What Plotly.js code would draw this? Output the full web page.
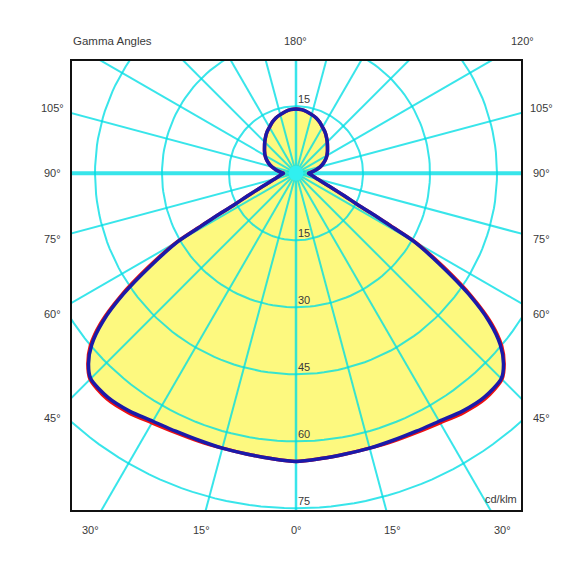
<!DOCTYPE html>
<html>
<head>
<meta charset="utf-8">
<script src="https://cdn.plot.ly/plotly-3.0.1.min.js"></script>
<style>html,body{margin:0;padding:0;background:#fff;}#chart{width:584px;height:584px;}</style>
</head>
<body>
<div id="chart"></div>
<script>
// Gamma angles (degrees from nadir) and luminous intensity (cd/klm)
const gamma = [0,5,10,15,20,25,30,35,40,45,47.5,50,52.5,55,57.5,60,61,62,63,65,67.5,70,75,80,85,90,95,100,105,110,115,120,125,130,135,140,145,150,155,160,165,170,175,180];
const planeBlue = [64.5,64.1,63.8,63.7,63.6,63.7,64.1,65.0,65.5,65.0,63.0,59.7,54.5,47.2,38.6,30.3,23.8,19.4,15.5,11.9,9.0,7.1,5.0,3.9,3.3,2.8,3.6,4.6,5.6,6.5,7.3,8.0,8.6,9.2,9.9,10.6,11.3,11.9,12.6,13.2,13.6,14.0,14.3,14.4];
const planeRed  = [64.5,64.1,63.8,63.7,63.8,64.0,64.5,65.4,65.9,65.2,63.2,60.1,55.1,47.9,39.4,31.0,24.3,19.7,15.6,11.9,9.0,7.1,5.0,3.9,3.3,2.8,3.6,4.6,5.6,6.5,7.3,8.0,8.6,9.2,9.9,10.6,11.3,11.9,12.6,13.2,13.6,14.0,14.3,14.4];
const ringValues = [15,30,45,60,75];
const spokeAngles = [0,15,30,45,60,75,90,105,120,135,150,165,180,195,210,225,240,255,270,285,300,315,330,345];
const sideLabelsLeft = ["105°","90°","75°","60°","45°"];
const sideLabelsRight = ["105°","90°","75°","60°","45°"];
const bottomLabels = ["30°","15°","0°","15°","30°"];
const topLabels = ["Gamma Angles","180°","120°"];
const unitLabel = "cd/klm";

const rad = d => d*Math.PI/180;
// closed loop starting/ending at the right-hand cusp (gamma = 90)
function curve(vals){
  const x=[], y=[];
  const n=gamma.length, i90=gamma.indexOf(90);
  const P=(i,side)=>{ x.push(side*vals[i]*Math.sin(rad(gamma[i]))); y.push(-vals[i]*Math.cos(rad(gamma[i]))); };
  for(let i=i90;i>=0;i--) P(i,1);
  for(let i=1;i<n;i++) P(i,-1);
  for(let i=n-2;i>=i90;i--) P(i,1);
  return {x,y};
}
const cb = curve(planeBlue), cr = curve(planeRed);

// grid
const rx=[], ry=[];
ringValues.forEach(r=>{ for(let a=0;a<=360;a+=2){ rx.push(r*Math.sin(rad(a))); ry.push(-r*Math.cos(rad(a))); } rx.push(null); ry.push(null); });
const sx=[], sy=[], hx=[], hy=[], vx=[], vy=[];
const R=140;
spokeAngles.forEach(a=>{
  const px=R*Math.sin(rad(a)), py=-R*Math.cos(rad(a));
  if(a===90||a===270){ hx.push(0,px,null); hy.push(0,py,null); }
  else if(a===0||a===180){ vx.push(0,px,null); vy.push(0,py,null); }
  else { sx.push(0,px,null); sy.push(0,py,null); }
});

const gridCol='rgba(0,222,228,0.78)';
const sm=0.75;
const traces=[
  {x:cb.x,y:cb.y,mode:'lines',fill:'toself',fillcolor:'#fdf97f',line:{width:0,shape:'spline',smoothing:sm},hoverinfo:'skip'},
  {x:rx,y:ry,mode:'lines',line:{color:gridCol,width:2},hoverinfo:'skip'},
  {x:sx,y:sy,mode:'lines',line:{color:gridCol,width:2},hoverinfo:'skip'},
  {x:vx,y:vy,mode:'lines',line:{color:gridCol,width:2.5},hoverinfo:'skip'},
  {x:hx,y:hy,mode:'lines',line:{color:gridCol,width:4},hoverinfo:'skip'},
  {x:[0],y:[0],mode:'markers',marker:{color:'#30f0f0',size:15},hoverinfo:'skip'},
  {x:cr.x,y:cr.y,mode:'lines',line:{color:'#ee1111',width:3.5,shape:'spline',smoothing:sm},hoverinfo:'skip'},
  {x:cb.x,y:cb.y,mode:'lines',line:{color:'#1a1aaa',width:3.5,shape:'spline',smoothing:sm},hoverinfo:'skip'}
];

// pixel -> paper helpers (plot box 72..521 x 61..510)
const L=72, T=61, W=449, H=449;
const pxX = p => (p-L)/W, pxY = p => (T+H-p)/H;
const font={family:'Liberation Sans, Arial, sans-serif',size:11,color:'#3a3a3a'};
const ann=[];
const sideY=[108,173,239,314,418];
sideLabelsLeft.forEach((t,i)=>ann.push({text:t,xref:'paper',yref:'paper',x:pxX(52),y:pxY(sideY[i]),xanchor:'center',yanchor:'middle',showarrow:false,font}));
sideLabelsRight.forEach((t,i)=>ann.push({text:t,xref:'paper',yref:'paper',x:pxX(541),y:pxY(sideY[i]),xanchor:'center',yanchor:'middle',showarrow:false,font}));
const botX=[90,201,296,392,502];
bottomLabels.forEach((t,i)=>ann.push({text:t,xref:'paper',yref:'paper',x:pxX(botX[i]),y:pxY(530),xanchor:'center',yanchor:'middle',showarrow:false,font}));
ann.push({text:topLabels[0],xref:'paper',yref:'paper',x:pxX(71),y:pxY(41),xanchor:'left',yanchor:'middle',showarrow:false,font:Object.assign({},font,{size:11.5})});
ann.push({text:topLabels[1],xref:'paper',yref:'paper',x:pxX(295),y:pxY(41),xanchor:'center',yanchor:'middle',showarrow:false,font});
ann.push({text:topLabels[2],xref:'paper',yref:'paper',x:pxX(522),y:pxY(41),xanchor:'center',yanchor:'middle',showarrow:false,font});
ann.push({text:unitLabel,xref:'paper',yref:'paper',x:pxX(519),y:pxY(499),xanchor:'right',yanchor:'middle',showarrow:false,font});
// ring value labels
ringValues.forEach(r=>ann.push({text:String(r),xref:'x',yref:'y',x:0,y:-r,xanchor:'left',yanchor:'bottom',yshift:-1,showarrow:false,font}));
ann.push({text:String(ringValues[0]),xref:'x',yref:'y',x:0,y:ringValues[0],xanchor:'left',yanchor:'bottom',yshift:-1,showarrow:false,font});

const s=67/15;
const layout={
  width:584,height:584,
  margin:{l:L,r:584-L-W,t:T,b:584-T-H,pad:0},
  paper_bgcolor:'#fff',plot_bgcolor:'#fff',
  showlegend:false,
  xaxis:{range:[-(296-L)/s,(L+W-296)/s],showgrid:false,zeroline:false,showticklabels:false,ticks:'',showline:true,mirror:true,linecolor:'#111',linewidth:2,fixedrange:true},
  yaxis:{range:[-(T+H-173.3)/s,(173.3-T)/s],showgrid:false,zeroline:false,showticklabels:false,ticks:'',showline:true,mirror:true,linecolor:'#111',linewidth:2,fixedrange:true},
  annotations:ann
};
Plotly.newPlot('chart',traces,layout,{displayModeBar:false,staticPlot:true});
</script>
</body>
</html>
